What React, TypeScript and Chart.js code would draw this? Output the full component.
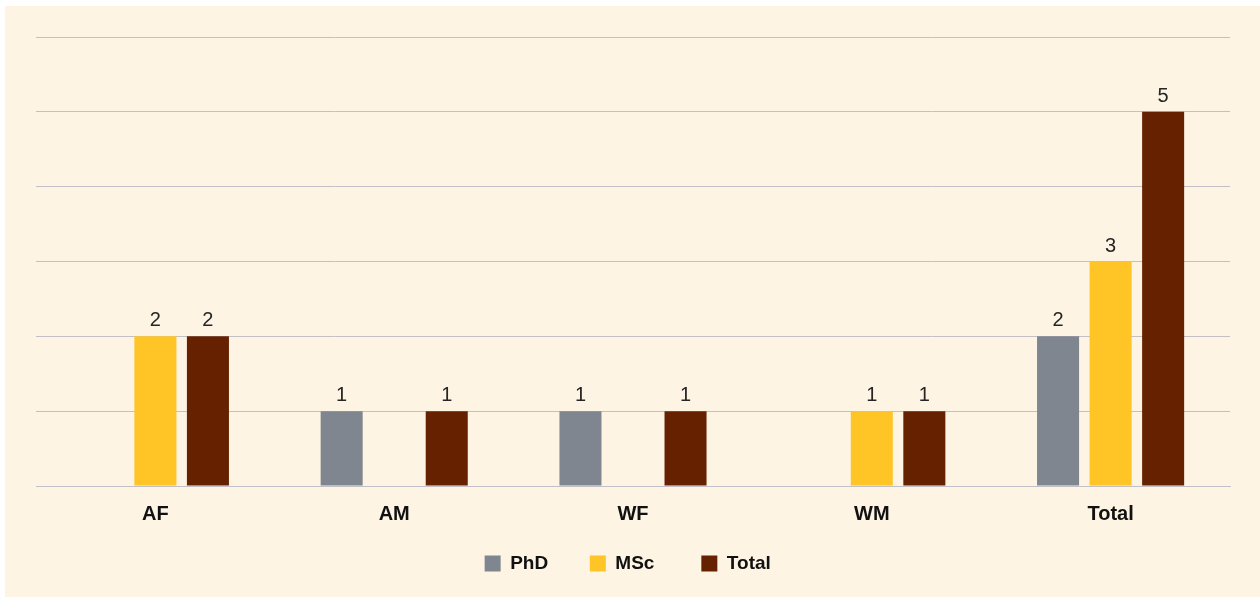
import React, { useEffect, useRef } from "react";
import { Chart, registerables } from "chart.js";

Chart.register(...registerables);

const categories = ["AF", "AM", "WF", "WM", "Total"];
const phdValues = [0, 1, 1, 0, 2];
const mscValues = [2, 0, 0, 1, 3];
const totalValues = [2, 1, 1, 1, 5];
const seriesNames = ["PhD", "MSc", "Total"];
const seriesColors = ["#80868f", "#ffc425", "#662200"];
const legendGaps = ["      ", "       ", "  "];

const FONT = "'Liberation Sans', Arial, Helvetica, sans-serif";

const valueLabels = {
  id: "valueLabels",
  afterDatasetsDraw(chart: any) {
    const ctx = chart.ctx;
    ctx.save();
    ctx.font = `20px ${FONT}`;
    ctx.fillStyle = "#252525";
    ctx.textAlign = "center";
    ctx.textBaseline = "alphabetic";
    chart.data.datasets.forEach((ds: any, i: number) => {
      const meta = chart.getDatasetMeta(i);
      meta.data.forEach((el: any, j: number) => {
        const v = ds.data[j];
        if (v > 0) {
          ctx.fillText(String(v), el.x, el.y - 10);
        }
      });
    });
    ctx.restore();
  },
};

export default function App() {
  const ref = useRef<HTMLCanvasElement>(null);
  useEffect(() => {
    if (!ref.current) return;
    const chart = new Chart(ref.current, {
      type: "bar",
      data: {
        labels: categories,
        datasets: [phdValues, mscValues, totalValues].map((d, i) => ({
          label: seriesNames[i],
          data: d,
          backgroundColor: seriesColors[i],
          borderWidth: 0,
          categoryPercentage: 0.66,
          barPercentage: 0.8,
        })),
      },
      options: {
        animation: false,
        responsive: true,
        maintainAspectRatio: false,
        layout: { padding: { left: 31, right: 30, top: 31, bottom: 14 } },
        scales: {
          x: {
            grid: { display: false, drawTicks: false },
            border: { display: true, color: "#c2c0c6", width: 1 },
            ticks: {
              color: "#111",
              font: { family: FONT, size: 20, weight: "bold" },
              padding: 16,
            },
            afterFit(scale: any) {
              scale.height += 2;
            },
          },
          y: {
            min: 0,
            max: 6,
            ticks: { display: false, stepSize: 1 },
            grid: { color: "#c2c0c6", lineWidth: 1, drawTicks: false },
            border: { display: false },
          },
        },
        plugins: {
          legend: {
            position: "bottom",
            labels: {
              boxWidth: 16,
              boxHeight: 16,
              padding: 10,
              color: "#111",
              font: { family: FONT, size: 19, weight: "bold" },
              generateLabels(c: any) {
                const items = Chart.defaults.plugins.legend.labels.generateLabels(c);
                return items.map((it: any, i: number) => ({
                  ...it,
                  text: it.text + legendGaps[i],
                  lineWidth: 0,
                }));
              },
            },
          },
          tooltip: { enabled: false },
        },
      },
      plugins: [valueLabels],
    });
    return () => chart.destroy();
  }, []);
  return (
    <div
      style={{
        position: "absolute",
        left: 5,
        top: 6,
        width: 1255,
        height: 591,
        background: "#fef4e4",
      }}
    >
      <canvas ref={ref} />
    </div>
  );
}
